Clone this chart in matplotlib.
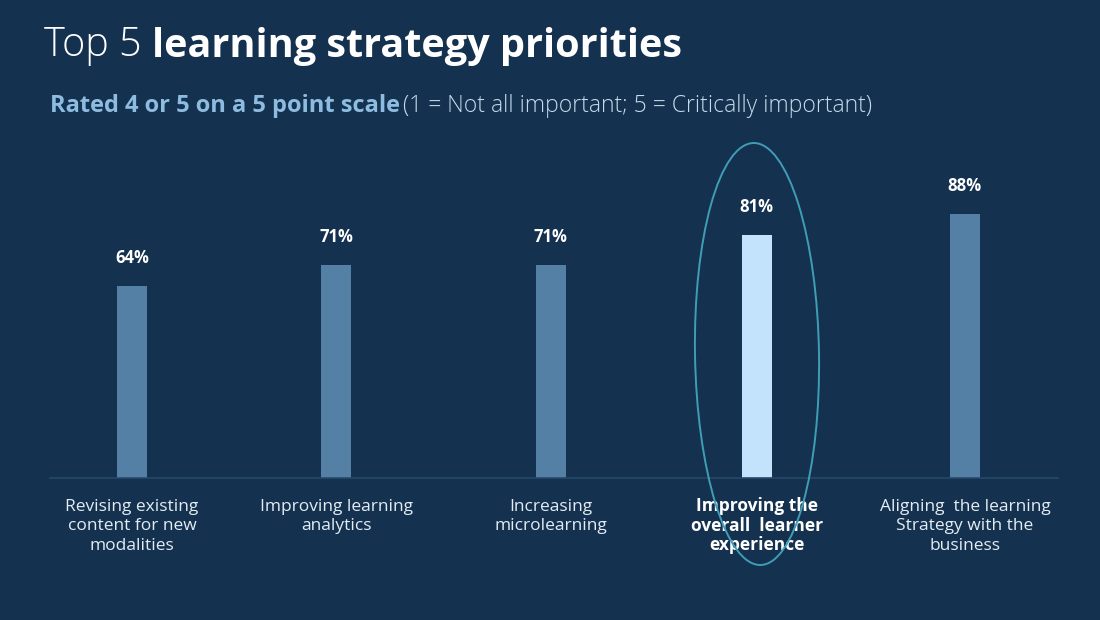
import matplotlib
matplotlib.use("Agg")
import matplotlib.pyplot as plt
from matplotlib.patches import Ellipse

categories = ["Revising existing\ncontent for new\nmodalities",
              "Improving learning\nanalytics",
              "Increasing\nmicrolearning",
              "Improving the\noverall  learner\nexperience",
              "Aligning  the learning\nStrategy with the\nbusiness"]
values = [64, 71, 71, 81, 88]
positions = [0, 0.98, 2.01, 3.0, 4.0]
highlight = 3

BG = "#14324f"
BAR = "#5580a5"
HI = "#c2e3fb"
FONT = ["Open Sans", "DejaVu Sans"]

plt.rcParams["font.family"] = FONT

fig = plt.figure(figsize=(11, 6.2), dpi=100, facecolor=BG)
W, H = 1100, 620

# axes placed so the baseline sits at y=478px and 1% = 3px
ax = fig.add_axes([50 / W, (H - 478) / H, 1008 / W, 300 / H])
ax.set_facecolor(BG)
colors = [HI if i == highlight else BAR for i in range(len(values))]
ax.bar(positions, values, width=0.144, color=colors, zorder=2)
ax.set_xlim(-0.394, 4.447)
ax.set_ylim(0, 100)
for s in ["top", "right", "left"]:
    ax.spines[s].set_visible(False)
ax.spines["bottom"].set_color("#26496a")
ax.spines["bottom"].set_linewidth(1.2)
ax.set_yticks([])
ax.set_xticks(positions)
ax.set_xticklabels([])
ax.tick_params(axis="x", length=0)

for i, v in enumerate(values):
    ax.annotate(f"{v}%", (positions[i], v), xytext=(0, 20), textcoords="offset points",
                ha="center", va="center", color="white", fontsize=12,
                fontweight="bold")
    hi = i == highlight
    ax.annotate(categories[i], (positions[i], 0), xytext=(0, -14 if hi else -15),
                textcoords="offset points",
                ha="center", va="top", fontsize=12.5,
                linespacing=1.1 if hi else 1.3,
                color="white" if hi else "#e4ecf3",
                fontweight="bold" if hi else "normal")

# hand-drawn style ellipse around the highlighted bar
ell = Ellipse((757 / W, (H - 354) / H), 124 / W, 422 / H, angle=0.5,
              transform=fig.transFigure, fill=False, edgecolor="#3f9db5",
              linewidth=1.4, zorder=5)
fig.add_artist(ell)

renderer = fig.canvas.get_renderer()


def run_text(x0, y0, parts, gap):
    xp = x0
    for txt, kw in parts:
        t = fig.text(xp / W, 1 - y0 / H, txt, va="center", ha="left", **kw)
        bb = t.get_window_extent(renderer=renderer)
        xp += bb.width + gap


run_text(44, 46, [("Top 5", dict(fontsize=28.5, color="white", fontweight="light")),
                  ("learning strategy priorities", dict(fontsize=28.5, color="white",
                                                         fontweight="bold"))], 10)
run_text(50, 106, [("Rated 4 or 5 on a 5 point scale", dict(fontsize=17, color="#8dbce0",
                                                            fontweight="bold")),
                   ("(1 = Not all important; 5 = Critically important)",
                    dict(fontsize=16.5, color="#c5dbeb", fontweight="light"))], 3)

fig.savefig("out.png", dpi=100, facecolor=BG)
